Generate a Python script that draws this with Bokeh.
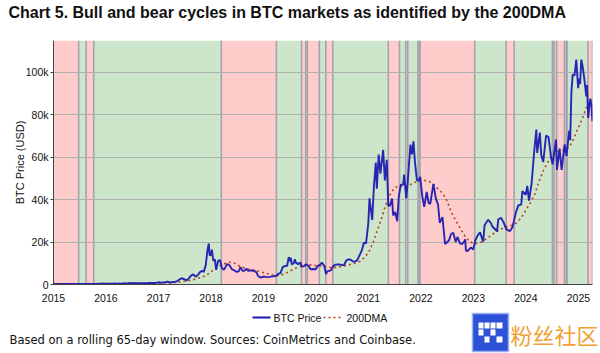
import pandas as pd
from bokeh.plotting import figure
from bokeh.layouts import column
from bokeh.core.properties import value
from bokeh.models import (ColumnDataSource, NumeralTickFormatter, FixedTicker,
                          DatetimeTickFormatter, Range1d)
from bokeh.embed import file_html
from bokeh.resources import INLINE

# ---------------- data ----------------
price_dates = [
    "2015-01-01", "2015-01-14", "2015-01-25", "2015-02-10", "2015-02-25", "2015-03-11", "2015-03-25",
    "2015-04-10", "2015-04-25", "2015-05-10", "2015-05-25", "2015-06-10", "2015-06-25", "2015-07-10",
    "2015-07-25", "2015-08-10", "2015-08-25", "2015-09-10", "2015-09-25", "2015-10-10", "2015-10-25",
    "2015-11-04", "2015-11-15", "2015-11-30", "2015-12-15", "2015-12-31",
    "2016-01-15", "2016-01-31", "2016-02-15", "2016-02-29", "2016-03-15", "2016-03-31", "2016-04-15",
    "2016-04-30", "2016-05-15", "2016-05-31", "2016-06-17", "2016-06-30", "2016-07-15", "2016-07-31",
    "2016-08-15", "2016-08-31", "2016-09-15", "2016-09-30", "2016-10-15", "2016-10-31", "2016-11-15",
    "2016-11-30", "2016-12-15", "2016-12-31",
    "2017-01-04", "2017-01-12", "2017-01-31", "2017-02-15", "2017-03-03", "2017-03-24", "2017-04-15",
    "2017-04-30", "2017-05-15", "2017-05-25", "2017-06-11", "2017-06-30", "2017-07-16", "2017-07-31",
    "2017-08-15", "2017-08-31", "2017-09-15", "2017-09-30", "2017-10-15", "2017-10-31", "2017-11-12",
    "2017-11-26", "2017-12-07", "2017-12-17", "2017-12-22", "2017-12-31",
    "2018-01-07", "2018-01-17", "2018-01-28", "2018-02-06", "2018-02-20", "2018-03-05", "2018-03-18",
    "2018-04-01", "2018-04-24", "2018-05-10", "2018-05-28", "2018-06-10", "2018-06-29", "2018-07-15",
    "2018-07-25", "2018-08-10", "2018-08-25", "2018-09-05", "2018-09-15", "2018-09-30", "2018-10-15",
    "2018-10-31", "2018-11-14", "2018-11-25", "2018-12-15", "2018-12-31",
    "2019-01-15", "2019-01-31", "2019-02-15", "2019-02-28", "2019-03-15", "2019-03-31", "2019-04-15",
    "2019-04-30", "2019-05-15", "2019-05-30", "2019-06-15", "2019-06-26", "2019-07-05", "2019-07-10",
    "2019-07-17", "2019-07-31", "2019-08-07", "2019-08-15", "2019-08-31", "2019-09-15", "2019-09-25",
    "2019-10-10", "2019-10-26", "2019-11-10", "2019-11-25", "2019-12-10", "2019-12-31",
    "2020-01-15", "2020-01-31", "2020-02-12", "2020-02-28", "2020-03-12", "2020-03-20", "2020-03-31",
    "2020-04-15", "2020-04-30", "2020-05-15", "2020-05-31", "2020-06-15", "2020-06-30", "2020-07-15",
    "2020-07-31", "2020-08-15", "2020-08-31", "2020-09-15", "2020-09-30", "2020-10-15", "2020-10-31",
    "2020-11-15", "2020-11-30", "2020-12-15", "2020-12-31",
    "2021-01-08", "2021-01-15", "2021-01-27", "2021-02-08", "2021-02-21", "2021-02-28", "2021-03-13",
    "2021-03-25", "2021-04-13", "2021-04-25", "2021-05-08", "2021-05-19", "2021-05-31", "2021-06-14",
    "2021-06-22", "2021-07-06", "2021-07-20", "2021-07-31", "2021-08-14", "2021-08-31", "2021-09-06",
    "2021-09-21", "2021-10-01", "2021-10-20", "2021-10-31", "2021-11-10", "2021-11-20", "2021-12-04",
    "2021-12-15", "2021-12-27",
    "2022-01-10", "2022-01-24", "2022-02-10", "2022-02-24", "2022-03-07", "2022-03-29", "2022-04-15",
    "2022-04-30", "2022-05-12", "2022-05-31", "2022-06-13", "2022-06-18", "2022-06-30", "2022-07-15",
    "2022-07-30", "2022-08-14", "2022-08-31", "2022-09-12", "2022-09-30", "2022-10-15", "2022-10-31",
    "2022-11-05", "2022-11-10", "2022-11-21", "2022-12-15", "2022-12-31",
    "2023-01-15", "2023-01-31", "2023-02-16", "2023-03-10", "2023-03-20", "2023-04-14", "2023-04-30",
    "2023-05-15", "2023-06-15", "2023-06-23", "2023-07-13", "2023-07-31", "2023-08-18", "2023-09-11",
    "2023-09-30", "2023-10-24", "2023-11-10", "2023-11-30", "2023-12-08", "2023-12-31",
    "2024-01-11", "2024-01-23", "2024-02-10", "2024-02-28", "2024-03-14", "2024-03-20", "2024-04-08",
    "2024-04-17", "2024-05-01", "2024-05-21", "2024-06-07", "2024-06-24", "2024-07-05", "2024-07-29",
    "2024-08-05", "2024-08-23", "2024-09-06", "2024-09-27", "2024-10-10", "2024-10-29", "2024-11-05",
    "2024-11-13", "2024-11-22", "2024-12-05", "2024-12-17", "2024-12-30",
    "2025-01-07", "2025-01-13", "2025-01-21", "2025-01-31", "2025-02-10", "2025-02-25", "2025-03-02",
    "2025-03-10", "2025-03-24", "2025-04-02", "2025-04-08",
]
price_values = [
    314, 178, 253, 220, 237, 296, 247, 236, 226, 240, 237, 229, 242, 285, 289, 264, 210, 238, 235, 246,
    287, 403, 320, 378, 450, 430,
    375, 370, 401, 437, 415, 416, 430, 448, 456, 531, 750, 670, 665, 624, 567, 573, 607, 609, 638, 700,
    712, 742, 780, 963,
    1130, 810, 970, 1010, 1280, 935, 1180, 1350, 1740, 2300, 2950, 2480, 1930, 2870, 4160, 4740, 3700,
    4340, 5700, 6450, 5950, 9300, 16000, 19300, 13800, 13900,
    16400, 11200, 11800, 6950, 11200, 11500, 7800, 6900, 9650, 9000, 7100, 6750, 5900, 6350, 8200, 6300,
    6700, 7400, 6500, 6600, 6600, 6300, 5700, 3900, 3250, 3750,
    3600, 3450, 3600, 3830, 3900, 4100, 5050, 5350, 8200, 8700, 8800, 12900, 11000, 12600, 9500, 10000,
    11900, 10300, 9600, 10300, 8500, 8600, 9550, 8800, 7150, 7300, 7200,
    8800, 9350, 10350, 8700, 4900, 6200, 6450, 6650, 8650, 9350, 9500, 9450, 9150, 9200, 11350, 11850,
    11650, 10800, 10800, 11500, 13800, 15950, 19700, 19400, 29000,
    40600, 36800, 30400, 46400, 57500, 45200, 61200, 52300, 63500, 49100, 58800, 37000, 37300, 40500,
    32500, 34200, 29800, 41500, 47000, 47100, 51800, 40600, 48200, 65900, 61300, 67500, 58000, 49200,
    48900, 50700,
    41800, 36600, 43600, 38300, 38000, 47400, 40500, 37700, 29000, 31800, 22500, 19000, 19800, 20800,
    23800, 24400, 20000, 22400, 19400, 19100, 20500, 21300, 15900, 15800, 17400, 16550,
    20900, 23100, 24600, 20200, 28000, 30500, 29300, 27200, 25100, 30700, 31400, 29200, 26100, 25100,
    27000, 34000, 37300, 37700, 44000, 42300,
    46500, 39500, 47500, 62500, 73000, 62000, 71600, 61300, 57700, 70200, 69500, 60300, 56600, 68300,
    54000, 64000, 54000, 66000, 60500, 72500, 68000, 90500, 98900, 98500, 106000, 92500,
    97000, 94500, 106000, 102500, 97500, 88700, 94000, 78500, 87500, 85000, 77000,
]

dma_dates = [
    "2015-01-01", "2015-02-01", "2015-03-01", "2015-04-01", "2015-05-01", "2015-06-01", "2015-07-01",
    "2015-08-01", "2015-09-01", "2015-10-01", "2015-11-01", "2015-12-01",
    "2016-01-01", "2016-02-01", "2016-03-01", "2016-04-01", "2016-05-01", "2016-06-01", "2016-07-01",
    "2016-08-01", "2016-09-01", "2016-10-01", "2016-11-01", "2016-12-01",
    "2017-01-01", "2017-02-01", "2017-03-01", "2017-04-01", "2017-05-01", "2017-06-01", "2017-07-01",
    "2017-08-01", "2017-09-01", "2017-10-01", "2017-11-01", "2017-12-01",
    "2018-01-01", "2018-02-01", "2018-03-01", "2018-04-01", "2018-05-01", "2018-05-20", "2018-06-15",
    "2018-07-01", "2018-08-01", "2018-09-01", "2018-10-01", "2018-11-01", "2018-12-01",
    "2019-01-01", "2019-02-01", "2019-03-01", "2019-04-01", "2019-04-20", "2019-05-01", "2019-06-01",
    "2019-07-01", "2019-08-01", "2019-09-01", "2019-10-01", "2019-11-01", "2019-12-01",
    "2020-01-01", "2020-02-01", "2020-03-01", "2020-04-01", "2020-05-01", "2020-06-01", "2020-07-01",
    "2020-08-01", "2020-09-01", "2020-10-01", "2020-11-01", "2020-12-01",
    "2021-01-01", "2021-02-01", "2021-03-01", "2021-04-01", "2021-05-01", "2021-06-01", "2021-07-01",
    "2021-08-01", "2021-09-01", "2021-10-01", "2021-11-01", "2021-12-01",
    "2022-01-01", "2022-02-01", "2022-03-01", "2022-04-01", "2022-05-01", "2022-06-01", "2022-07-01",
    "2022-08-01", "2022-09-01", "2022-10-01", "2022-11-01", "2022-12-01",
    "2023-01-01", "2023-02-01", "2023-03-01", "2023-04-01", "2023-05-01", "2023-06-01", "2023-07-01",
    "2023-08-01", "2023-09-01", "2023-10-01", "2023-11-01", "2023-12-01",
    "2024-01-01", "2024-02-01", "2024-03-01", "2024-04-01", "2024-05-01", "2024-06-01", "2024-07-01",
    "2024-08-01", "2024-09-01", "2024-10-01", "2024-11-01", "2024-12-01",
    "2025-01-01", "2025-02-01", "2025-03-01", "2025-04-08",
]
dma_values = [
    440, 390, 350, 310, 280, 255, 245, 250, 250, 250, 260, 280,
    300, 330, 360, 385, 405, 430, 480, 520, 560, 590, 610, 640,
    680, 730, 800, 880, 990, 1210, 1500, 1800, 2300, 2850, 3500, 4400,
    6000, 7600, 8700, 9700, 10300, 10500, 10000, 9300, 8300, 7500, 7000, 6800, 6200,
    5600, 5100, 4600, 4300, 4200, 4300, 5200, 6200, 7300, 8200, 8900, 9300, 9200,
    8900, 8700, 8600, 8000, 7900, 8200, 8600, 9000, 9500, 10000, 10800, 12500,
    15000, 19500, 25000, 31000, 37500, 42500, 45500, 46500, 46500, 46500, 47500, 48500,
    49000, 49000, 48500, 47000, 45000, 43000, 39500, 34000, 30000, 26500, 23000, 20500,
    19300, 19400, 20000, 21500, 23000, 24500, 25800, 26800, 27400, 28000, 29200, 31500,
    35000, 38500, 42000, 48500, 53500, 57500, 60500, 62500, 63000, 63500, 65000, 69000,
    74000, 79000, 84000, 87000,
]

# bull / bear regimes (price above / below the 200DMA)
regime_starts = [
    "2015-01-01", "2015-06-25", "2015-08-16", "2015-10-08", "2018-03-14", "2019-04-01",
    "2019-09-23", "2019-10-23", "2019-11-02", "2020-01-25", "2020-03-10", "2020-04-28",
    "2021-05-19", "2021-08-05", "2021-09-17", "2021-10-01", "2021-12-12", "2021-12-19",
    "2021-12-26", "2023-01-10", "2023-08-17", "2023-10-12", "2024-07-04", "2024-07-15",
    "2024-08-02", "2024-09-26", "2024-10-09", "2024-10-14", "2025-03-09",
]
regime_types = [
    "bear", "bull", "bear", "bull", "bear", "bull",
    "bear", "bull", "bear", "bull", "bear", "bull",
    "bear", "bull", "bear", "bull", "bear", "bull",
    "bear", "bull", "bear", "bull", "bear", "bull",
    "bear", "bull", "bear", "bull", "bear",
]
chart_start = "2015-01-01"
chart_end = "2025-04-09"
year_ticks = [str(y) for y in range(2015, 2026)]
y_ticks = [0, 20000, 40000, 60000, 80000, 100000]

title_text = "Chart 5. Bull and bear cycles in BTC markets as identified by the 200DMA"
note_text = "Based on a rolling 65-day window. Sources: CoinMetrics and Coinbase."
series_labels = ["BTC Price", "200DMA"]
watermark_text = "粉丝社区"

# ---------------- styles ----------------
BEAR_COLOR = "#ffcccc"
BULL_COLOR = "#cde5cb"
SEP_COLOR = "#a3a3ad"
PRICE_COLOR = "#1717b0"
DMA_COLOR = "#b8401e"
FONT = "Liberation Sans"
W = 600
TOP_H, MAIN_H, BOT_H = 28, 277, 48


def blank(height, y_top, y_bottom):
    """A figure whose frame is the whole strip; data units = page pixels."""
    f = figure(width=W, height=height, x_range=Range1d(0, W), y_range=Range1d(y_bottom, y_top),
               x_axis_location=None, y_axis_location=None, output_backend="svg",
               toolbar_location=None, min_border=0)
    if "frame_align" in type(f).properties():
        f.frame_align = False
    f.grid.visible = False
    f.outline_line_color = None
    return f


# ---------------- title strip ----------------
top = blank(TOP_H, 0, TOP_H)
top.text(x=[8], y=[12], text=[title_text], text_font=value(FONT), text_font_size="16px",
         text_font_style="bold", text_color="#111111", text_baseline="middle")

# ---------------- main chart ----------------
p = figure(width=W, height=MAIN_H, x_axis_type="datetime",
           x_range=Range1d(pd.Timestamp(chart_start), pd.Timestamp(chart_end)),
           y_range=Range1d(0, 115000),
           output_backend="svg", toolbar_location=None,
           min_border_left=53, min_border_right=8, min_border_top=12, min_border_bottom=21)
if "frame_align" in type(p).properties():
    p.frame_align = False
p.outline_line_color = None

lefts = [pd.Timestamp(d) for d in regime_starts]
rights = lefts[1:] + [pd.Timestamp(chart_end)]
band_src = ColumnDataSource(dict(
    left=lefts, right=rights,
    color=[BEAR_COLOR if t == "bear" else BULL_COLOR for t in regime_types]))
p.quad(left="left", right="right", bottom=0, top=115000, fill_color="color",
       line_color=None, source=band_src, level="underlay")

sep_x = lefts[1:] + [pd.Timestamp(chart_end)]
p.segment(x0=sep_x, x1=sep_x, y0=[0] * len(sep_x), y1=[115000] * len(sep_x),
          line_color=SEP_COLOR, line_width=1.6, level="underlay")

price_src = ColumnDataSource(dict(x=pd.to_datetime(price_dates), y=price_values))
dma_src = ColumnDataSource(dict(x=pd.to_datetime(dma_dates), y=dma_values))
p.line("x", "y", source=dma_src, line_color=DMA_COLOR, line_width=1.6, line_dash="2 3")
p.line("x", "y", source=price_src, line_color=PRICE_COLOR, line_width=1.9, line_alpha=0.92)

p.xgrid.grid_line_color = None
p.ygrid.grid_line_color = "#b0b0b0"
p.ygrid.grid_line_width = 1
p.ygrid.ticker = FixedTicker(ticks=y_ticks)

p.xaxis.ticker = FixedTicker(ticks=[pd.Timestamp(f"{y}-01-01").value // 10**6 for y in year_ticks])
p.xaxis.formatter = DatetimeTickFormatter(years="%Y", months="%Y", days="%Y")
p.yaxis.ticker = FixedTicker(ticks=y_ticks)
p.yaxis.formatter = NumeralTickFormatter(format="0a")
p.yaxis.axis_label = "BTC Price (USD)"
for ax in (p.xaxis[0], p.yaxis[0]):
    ax.axis_line_color = "#444444"
    ax.axis_line_width = 1
    ax.major_tick_line_color = "#444444"
    ax.major_tick_out = 3
    ax.major_tick_in = 0
    ax.minor_tick_line_color = None
    ax.major_label_text_font = FONT
    ax.major_label_text_font_size = "10.5px"
    ax.major_label_text_color = "#111111"
    ax.axis_label_text_font = FONT
    ax.axis_label_text_font_size = "11px"
    ax.axis_label_text_font_style = "normal"
    ax.axis_label_text_color = "#111111"
p.xaxis.major_tick_line_color = None
p.xaxis.major_label_standoff = 6
p.yaxis.major_label_standoff = 2
p.yaxis.axis_label_standoff = -3

# ---------------- legend / footnote strip ----------------
y0 = MAIN_H + TOP_H
bot = blank(BOT_H, y0, y0 + BOT_H)
# legend keys and labels
bot.segment(x0=[252], x1=[270], y0=[317], y1=[317], line_color=PRICE_COLOR, line_width=1.9)
bot.segment(x0=[323], x1=[342], y0=[317], y1=[317], line_color=DMA_COLOR, line_width=1.6,
            line_dash="2 3")
bot.text(x=[273, 346], y=[317, 317], text=series_labels, text_font=value(FONT),
         text_font_size="10.5px", text_color="#111111", text_baseline="middle")

bot.text(x=[9], y=[339], text=[note_text], text_font=value("DejaVu Sans"), text_font_size="11.5px",
         text_color="#111111", text_baseline="middle")

# watermark: blue logo tile + orange characters
bot.quad(left=[472], right=[508], top=[313], bottom=[351], fill_color="#2d52d8",
         line_color="#9db0f0", line_width=1.5)
bot.quad(left=[478, 484, 490, 496, 478, 490, 484, 496],
         right=[483, 489, 495, 502, 483, 495, 489, 502],
         top=[322, 322, 322, 322, 329, 329, 336, 336],
         bottom=[328, 328, 328, 328, 335, 335, 342, 342],
         fill_color="white", line_color=None)
bot.text(x=[510], y=[333], text=[watermark_text], text_font=value("Noto Sans CJK SC"),
         text_font_size="22px", text_color="#f0a033", text_baseline="middle")

layout = column(top, p, bot, spacing=0)
open("out.html", "w").write(file_html(layout, INLINE))
